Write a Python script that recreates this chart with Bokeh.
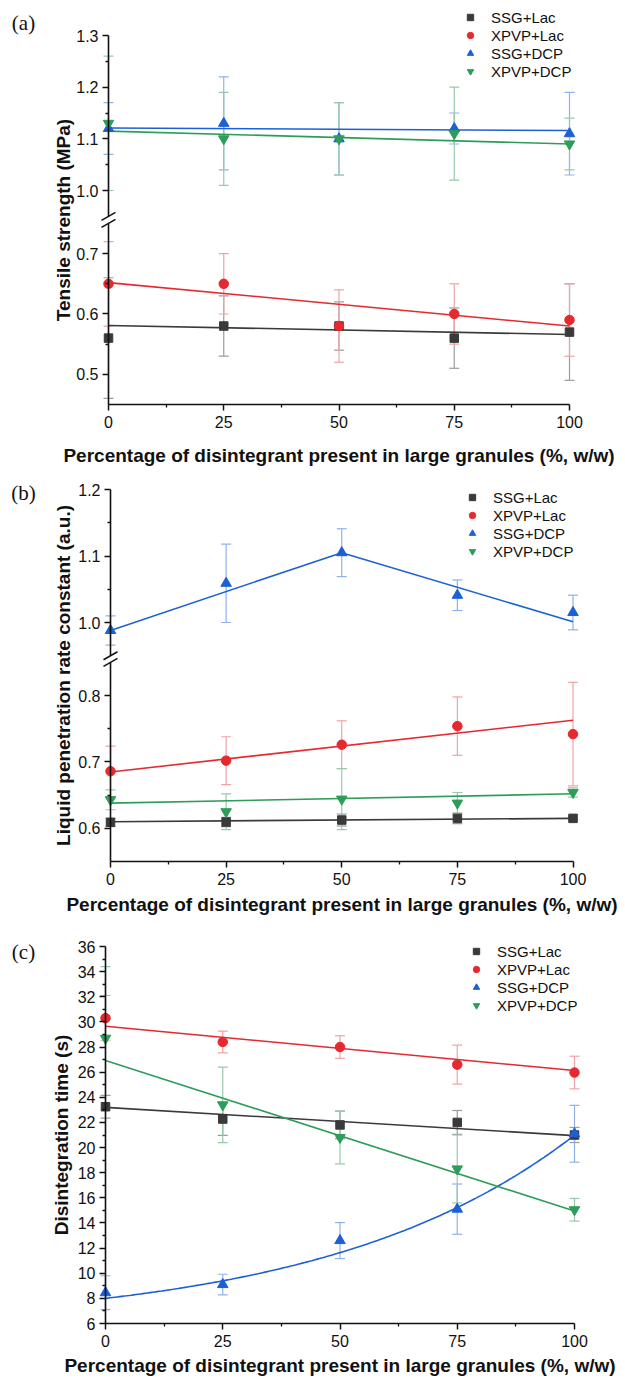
import numpy as np
from bokeh.plotting import figure
from bokeh.models import (Range1d, LinearAxis, FixedTicker, PrintfTickFormatter,
                          Whisker, TeeHead, ColumnDataSource, Legend, LegendItem,
                          Label, Arrow)
from bokeh.layouts import column
from bokeh.embed import file_html
from bokeh.resources import INLINE

# ---------------- data ----------------
x_pct = [0, 25, 50, 75, 100]
series_names = ["SSG+Lac", "XPVP+Lac", "SSG+DCP", "XPVP+DCP"]
x_ticks = [0, 25, 50, 75, 100]
x_minor = [12.5, 37.5, 62.5, 87.5]
x_title = "Percentage of disintegrant present in large granules (%, w/w)"
fit_x = [0, 100]

# (a) tensile strength (MPa)
ts_ssg_lac = [0.56, 0.58, 0.58, 0.56, 0.57]
ts_ssg_lac_err = [0.10, 0.05, 0.04, 0.05, 0.08]
ts_xpvp_lac = [0.65, 0.65, 0.58, 0.60, 0.59]
ts_xpvp_lac_err = [0.07, 0.05, 0.06, 0.05, 0.06]
ts_ssg_dcp = [1.12, 1.13, 1.10, 1.12, 1.11]
ts_ssg_dcp_err = [0.05, 0.09, 0.07, 0.03, 0.08]
ts_xpvp_dcp = [1.13, 1.10, 1.10, 1.11, 1.09]
ts_xpvp_dcp_err = [0.13, 0.09, 0.07, 0.09, 0.05]
ts_ssg_lac_fit = [0.581, 0.566]
ts_xpvp_lac_fit = [0.652, 0.580]
ts_ssg_dcp_fit = [1.121, 1.116]
ts_xpvp_dcp_fit = [1.115, 1.090]
ts_low_span = [0.45, 0.75]
ts_high_span = [0.95, 1.3]
ts_low_ticks = [0.5, 0.6, 0.7]
ts_low_minor = [0.55, 0.65]
ts_high_ticks = [1.0, 1.1, 1.2, 1.3]
ts_high_minor = [1.05, 1.15, 1.25]

# (b) liquid penetration rate constant (a.u.)
lp_ssg_lac = [0.609, 0.6095, 0.6125, 0.615, 0.615]
lp_ssg_lac_err = [0.006, 0.007, 0.009, 0.008, 0.003]
lp_xpvp_lac = [0.686, 0.702, 0.726, 0.754, 0.742]
lp_xpvp_lac_err = [0.038, 0.036, 0.036, 0.044, 0.078]
lp_ssg_dcp = [0.988, 1.059, 1.105, 1.041, 1.015]
lp_ssg_dcp_err = [0.022, 0.059, 0.036, 0.023, 0.026]
lp_xpvp_dcp = [0.643, 0.625, 0.644, 0.638, 0.654]
lp_xpvp_dcp_err = [0.015, 0.027, 0.046, 0.016, 0.007]
lp_ssg_lac_fit = [0.610, 0.615]
lp_xpvp_lac_fit = [0.685, 0.763]
lp_xpvp_dcp_fit = [0.638, 0.652]
lp_ssg_dcp_fit_x = [0, 50, 100]
lp_ssg_dcp_fit = [0.988, 1.105, 1.001]
lp_low_span = [0.55, 0.85]
lp_high_span = [0.95, 1.2]
lp_low_ticks = [0.6, 0.7, 0.8]
lp_low_minor = [0.65, 0.75]
lp_high_ticks = [1.0, 1.1, 1.2]
lp_high_minor = [1.05, 1.15]

# (c) disintegration time (s)
dt_ssg_lac = [23.25, 22.27, 21.8, 22.0, 21.0]
dt_ssg_lac_err = [0.9, 1.3, 1.1, 0.95, 0.6]
dt_xpvp_lac = [30.3, 28.4, 28.0, 26.6, 25.97]
dt_xpvp_lac_err = [1.8, 0.87, 0.9, 1.55, 1.3]
dt_ssg_dcp = [8.45, 9.1, 12.6, 15.1, 21.1]
dt_ssg_dcp_err = [1.35, 0.82, 1.43, 2.0, 2.26]
dt_xpvp_dcp = [28.7, 23.4, 20.8, 18.3, 15.05]
dt_xpvp_dcp_err = [5.7, 3.0, 2.1, 2.7, 0.9]
dt_ssg_lac_fit = [23.2, 20.95]
dt_xpvp_lac_fit = [29.65, 26.13]
dt_xpvp_dcp_fit = [26.93, 14.95]
dt_ssg_dcp_expfit = [5.68, 2.32, 53.0]   # y0, A, t  (y = y0 + A*exp(x/t))
dt_span = [6, 36]
dt_ticks = list(range(6, 37, 2))
dt_minor = list(range(7, 36, 2))

# ---------------- styles ----------------
COL = {"SSG+Lac": "#3a3a3a", "XPVP+Lac": "#e5292e", "SSG+DCP": "#1c60d6", "XPVP+DCP": "#2e9d59"}
ERRCOL = {"SSG+Lac": "#9c9c9c", "XPVP+Lac": "#f0a3a5", "SSG+DCP": "#8fb2ea", "XPVP+DCP": "#97caab"}
MARK = {"SSG+Lac": ("square", 8.5), "XPVP+Lac": ("circle", 9.5),
        "SSG+DCP": ("triangle", 10.5), "XPVP+DCP": ("inverted_triangle", 10.5)}
INK = "#111111"
FONT = "Liberation Sans"
PAGE_W = 625


def style_axis(ax):
    ax.axis_line_color = INK
    ax.axis_line_width = 1.6
    ax.major_tick_line_color = INK
    ax.major_tick_line_width = 1.5
    ax.minor_tick_line_color = INK
    ax.minor_tick_line_width = 1.3
    ax.major_tick_in = 0
    ax.major_tick_out = 6
    ax.minor_tick_in = 0
    ax.minor_tick_out = 3
    ax.major_label_text_font = FONT
    ax.major_label_text_font_size = "16px"
    ax.major_label_text_color = INK
    ax.major_label_standoff = 4
    ax.axis_label_text_font = FONT
    ax.axis_label_text_font_size = "19px"
    ax.axis_label_text_font_style = "bold"
    ax.axis_label_text_color = INK


def y_ranges(g, base_value, scale):
    """range whose value `base_value` sits at the x-axis line (window px fb)."""
    fh = g["cb"] - g["ft"]
    y0 = base_value - (g["cb"] - g["fb"]) / scale
    return (y0, y0 + fh / scale)


def make_fig(g, yr, x_axis_at):
    ppu = g["ppu"]
    xs = -g["x0"] / ppu
    xe = xs + PAGE_W / ppu
    fh = g["cb"] - g["ft"]
    p = figure(frame_width=PAGE_W, frame_height=fh, min_border=0,
               min_border_left=0, min_border_right=0, min_border_top=0,
               min_border_bottom=0,
               x_range=Range1d(xs, xe), y_range=Range1d(*yr), output_backend="svg",
               toolbar_location=None, tools="")
    p.background_fill_color = "white"
    p.border_fill_color = "white"
    p.outline_line_color = None
    p.xgrid.visible = False
    p.ygrid.visible = False
    xa = p.xaxis[0]
    style_axis(xa)
    xa.fixed_location = x_axis_at
    xa.bounds = (0, 100)
    xa.ticker = FixedTicker(ticks=x_ticks, minor_ticks=x_minor)
    xa.major_label_standoff = 5
    xa.axis_label = x_title
    xa.axis_label_standoff = g["xals"]
    return p


def add_label_axis(p, g, text, bounds):
    yl = LinearAxis(fixed_location=0, ticker=FixedTicker(ticks=[]), axis_label=text,
                    bounds=bounds)
    style_axis(yl)
    yl.axis_line_color = None
    yl.major_tick_out = 0
    yl.minor_tick_out = 0
    yl.axis_label_standoff = g["yals"]
    p.add_layout(yl, "left")


def px_to_data(g, yr, wx, wy):
    xd = (wx - g["x0"]) / g["ppu"]
    fh = g["cb"] - g["ft"]
    yd = yr[0] + (g["cb"] - wy) * (yr[1] - yr[0]) / fh
    return xd, yd


def add_series(p, entries):
    lines, scat = [], []
    for name, y, err, fx, fy, rn in entries:
        src = ColumnDataSource(dict(x=x_pct, y=y,
                                    lo=[a - b for a, b in zip(y, err)],
                                    hi=[a + b for a, b in zip(y, err)]))
        w = Whisker(source=src, base="x", lower="lo", upper="hi", dimension="height",
                    line_color=ERRCOL[name], line_width=1.2, level="underlay",
                    upper_head=TeeHead(size=10, line_color=ERRCOL[name], line_width=1.2),
                    lower_head=TeeHead(size=10, line_color=ERRCOL[name], line_width=1.2),
                    y_range_name=rn)
        p.add_layout(w)
        scat.append((name, src, rn))
        lines.append((name, fx, fy, rn))
    for name, fx, fy, rn in lines:
        p.line(fx, fy, line_color=COL[name], line_width=1.6, y_range_name=rn)
    rends = {}
    for name, src, rn in scat:
        mk, sz = MARK[name]
        rends[name] = p.scatter("x", "y", source=src, marker=mk, size=sz,
                                fill_color=COL[name], line_color=COL[name],
                                y_range_name=rn)
    return rends


def add_legend(p, g, rends, left_win, bottom_win):
    items = [LegendItem(label=n, renderers=[rends[n]]) for n in series_names]
    lg = Legend(items=items, location=(left_win, g["cb"] - bottom_win),
                padding=0, margin=0, spacing=0,
                label_height=18, glyph_height=18, glyph_width=16, label_standoff=13,
                label_text_font=FONT, label_text_font_size="15px",
                label_text_color=INK, label_text_baseline="middle",
                border_line_color=None, background_fill_alpha=0)
    p.add_layout(lg)


def add_letter(p, g, yr, text, wx, wy):
    xd, yd = px_to_data(g, yr, wx, wy)
    p.add_layout(Label(x=xd, y=yd, text=text, text_font="Liberation Serif",
                       text_font_size="21px", text_align="center",
                       text_baseline="middle", text_color=INK))


def broken_panel(g, low_span, high_span, low_ticks, low_minor, high_ticks, high_minor,
                 entries, ylabel, letter, letter_xy, legend_lb):
    fh = g["cb"] - g["ft"]
    yr = y_ranges(g, low_span[0], g["low_scale"])
    top_end = high_span[1] + (g["at"] - g["ft"]) / g["high_scale"]
    ytop = (top_end - fh / g["high_scale"], top_end)
    p = make_fig(g, yr, low_span[0])
    p.extra_y_ranges = {"top": Range1d(*ytop)}
    ya = p.yaxis[0]
    style_axis(ya)
    ya.fixed_location = 0
    ya.bounds = tuple(low_span)
    ya.ticker = FixedTicker(ticks=low_ticks, minor_ticks=low_minor)
    ya.formatter = PrintfTickFormatter(format="%.1f")
    yt = LinearAxis(y_range_name="top", fixed_location=0, bounds=tuple(high_span),
                    ticker=FixedTicker(ticks=high_ticks, minor_ticks=high_minor),
                    formatter=PrintfTickFormatter(format="%.1f"))
    style_axis(yt)
    p.add_layout(yt, "left")
    # axis label centred on the whole (broken) axis
    y_axis_top = low_span[0] + (g["fb"] - g["at"]) / g["low_scale"]
    add_label_axis(p, g, ylabel, (low_span[0], y_axis_top))
    # axis break marks
    bx = 7 / g["ppu"]
    v = low_span[1]
    dy = 4 / g["low_scale"]
    p.add_layout(Arrow(x_start=-bx, y_start=v - dy, x_end=bx, y_end=v + dy, end=None,
                       line_color=INK, line_width=1.5))
    v = high_span[0]
    dy = 4 / g["high_scale"]
    p.add_layout(Arrow(x_start=-bx, y_start=v - dy, x_end=bx, y_end=v + dy, end=None,
                       line_color=INK, line_width=1.5, y_range_name="top"))
    rends = add_series(p, entries)
    add_legend(p, g, rends, *legend_lb)
    add_letter(p, g, yr, letter, *letter_xy)
    return p


# ---------------- panel (a) ----------------
gA = dict(x0=108, ppu=4.61, ft=0, at=35, fb=404, cb=474, low_scale=603.5,
          high_scale=516.7, xals=14, yals=35)
pa = broken_panel(gA, ts_low_span, ts_high_span, ts_low_ticks, ts_low_minor,
                  ts_high_ticks, ts_high_minor,
                  [("SSG+Lac", ts_ssg_lac, ts_ssg_lac_err, fit_x, ts_ssg_lac_fit, "default"),
                   ("XPVP+Lac", ts_xpvp_lac, ts_xpvp_lac_err, fit_x, ts_xpvp_lac_fit, "default"),
                   ("SSG+DCP", ts_ssg_dcp, ts_ssg_dcp_err, fit_x, ts_ssg_dcp_fit, "top"),
                   ("XPVP+DCP", ts_xpvp_dcp, ts_xpvp_dcp_err, fit_x, ts_xpvp_dcp_fit, "top")],
                  "Tensile strength (MPa)", "(a)", (23, 22), (462, 80))

# ---------------- panel (b) ----------------
gB = dict(x0=110, ppu=4.625, ft=474, at=489, fb=861, cb=928, low_scale=663.5,
          high_scale=665.0, xals=6, yals=37)
pb = broken_panel(gB, lp_low_span, lp_high_span, lp_low_ticks, lp_low_minor,
                  lp_high_ticks, lp_high_minor,
                  [("SSG+Lac", lp_ssg_lac, lp_ssg_lac_err, fit_x, lp_ssg_lac_fit, "default"),
                   ("XPVP+Lac", lp_xpvp_lac, lp_xpvp_lac_err, fit_x, lp_xpvp_lac_fit, "default"),
                   ("SSG+DCP", lp_ssg_dcp, lp_ssg_dcp_err, lp_ssg_dcp_fit_x, lp_ssg_dcp_fit, "top"),
                   ("XPVP+DCP", lp_xpvp_dcp, lp_xpvp_dcp_err, fit_x, lp_xpvp_dcp_fit, "default")],
                  "Liquid penetration rate constant (a.u.)", "(b)", (23, 492), (464, 560))

# ---------------- panel (c) ----------------
gC = dict(x0=105, ppu=4.69, ft=928, at=946, fb=1323, cb=1382, xals=5, yals=34)
c_scale = (gC["fb"] - gC["at"]) / (dt_span[1] - dt_span[0])
yrC = y_ranges(gC, dt_span[0], c_scale)
pc = make_fig(gC, yrC, dt_span[0])
yc = pc.yaxis[0]
style_axis(yc)
yc.fixed_location = 0
yc.bounds = tuple(dt_span)
yc.ticker = FixedTicker(ticks=dt_ticks, minor_ticks=dt_minor)
yc.formatter = PrintfTickFormatter(format="%d")
add_label_axis(pc, gC, "Disintegration time (s)", tuple(dt_span))
exp_x = np.linspace(0, 100, 201)
exp_y = dt_ssg_dcp_expfit[0] + dt_ssg_dcp_expfit[1] * np.exp(exp_x / dt_ssg_dcp_expfit[2])
rc = add_series(pc, [("SSG+Lac", dt_ssg_lac, dt_ssg_lac_err, fit_x, dt_ssg_lac_fit, "default"),
                     ("XPVP+Lac", dt_xpvp_lac, dt_xpvp_lac_err, fit_x, dt_xpvp_lac_fit, "default"),
                     ("SSG+DCP", dt_ssg_dcp, dt_ssg_dcp_err, list(exp_x), list(exp_y), "default"),
                     ("XPVP+DCP", dt_xpvp_dcp, dt_xpvp_dcp_err, fit_x, dt_xpvp_dcp_fit, "default")])
add_legend(pc, gC, rc, 468, 1014)
add_letter(pc, gC, yrC, "(c)", 23, 951)

layout = column(pa, pb, pc, spacing=0)
open("out.html", "w").write(file_html(layout, INLINE))
